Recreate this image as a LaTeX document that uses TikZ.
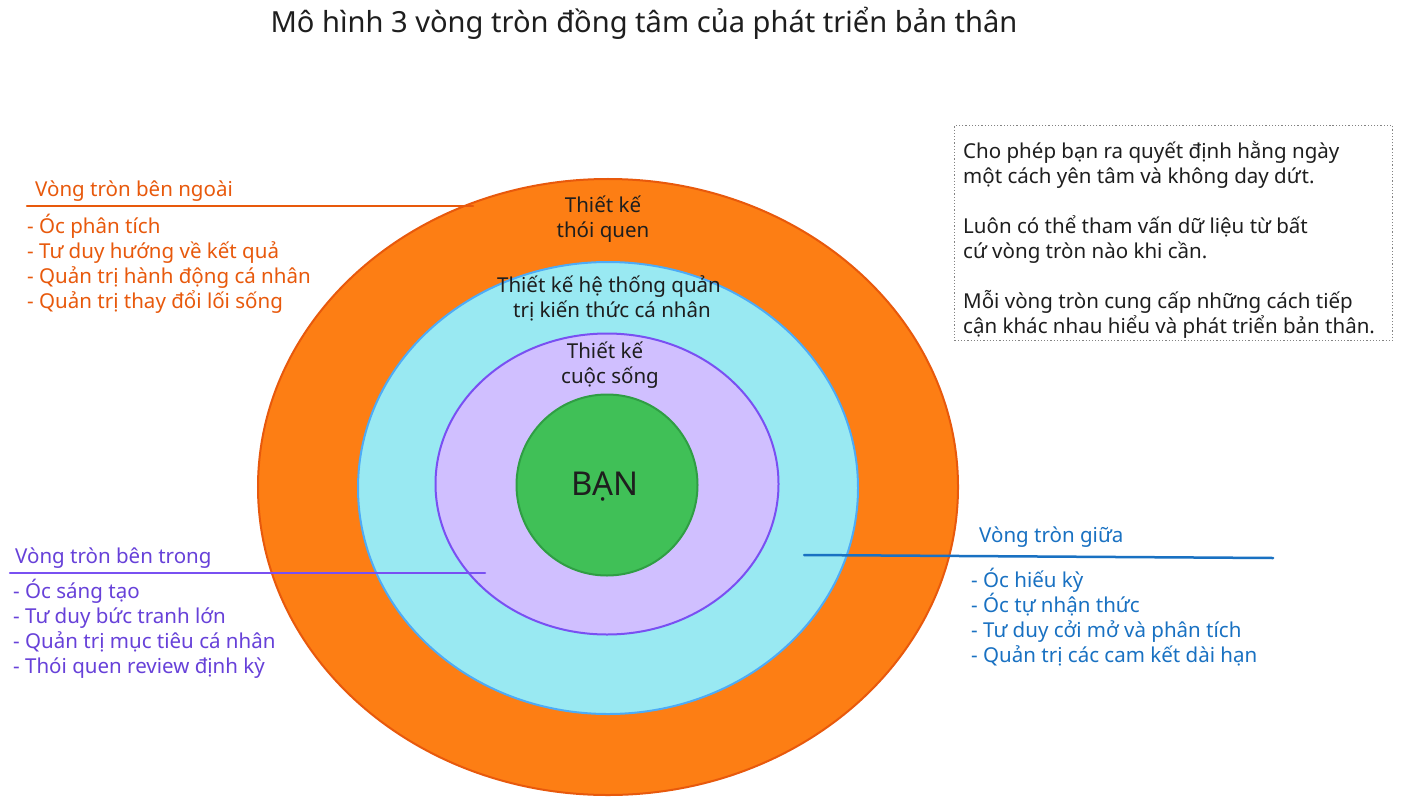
\documentclass[tikz,border=0pt]{standalone}
\usepackage{fontspec}
\setmainfont{Noto Sans}
\usetikzlibrary{shapes.geometric}
\definecolor{orfill}{HTML}{FD7E14}
\definecolor{orline}{HTML}{E8590C}
\definecolor{cyfill}{HTML}{99E9F2}
\definecolor{cyline}{HTML}{4DABF7}
\definecolor{vifill}{HTML}{D0BFFF}
\definecolor{viline}{HTML}{7950F2}
\definecolor{viink}{HTML}{6741D9}
\definecolor{grfill}{HTML}{40C057}
\definecolor{grline}{HTML}{2F9E44}
\definecolor{ink}{HTML}{1E1E1E}
\definecolor{blink}{HTML}{1971C2}
\begin{document}
\begin{tikzpicture}[x=1bp,y=-1bp,
  ring/.style={ellipse, line width=2bp, inner sep=0pt},
  body/.style={font=\fontsize{20.6}{25}\selectfont, inner sep=0pt, anchor=base west},
  lbl/.style={font=\fontsize{20.6}{25}\selectfont, inner sep=0pt, anchor=base, text=ink},
  rule/.style={line width=2.5bp, line cap=round}]
\useasboundingbox[fill=white] (0,0) rectangle (1425,804);

% title
\node[inner sep=0pt, anchor=base, text=ink, font=\fontsize{29.2}{34}\selectfont] (title) at (644,33) {Mô hình 3 vòng tròn đồng tâm của phát triển bản thân};

% rings
\node[ring, fill=orfill, draw=orline, minimum width=700bp, minimum height=616bp] (outer) at (608,487) {};
\node[ring, fill=cyfill, draw=cyline, minimum width=500bp, minimum height=452bp] (middle) at (608,488) {};
\node[ring, fill=vifill, draw=viline, minimum width=343bp, minimum height=301bp] (inner) at (607,484) {};
\node[circle, fill=grfill, draw=grline, line width=2bp, inner sep=0pt, minimum size=181bp] (core) at (607,485) {};
\node[inner sep=0pt, text=ink, font=\fontsize{33}{36}\selectfont] (you) at (605,487) {BẠN};

% ring labels
\node[lbl] (h1) at (603,212) {Thiết kế};
\node[lbl] (h2) at (603,237) {thói quen};
\node[lbl] (k1) at (609,292) {Thiết kế hệ thống quản};
\node[lbl] (k2) at (612,317) {trị kiến thức cá nhân};
\node[lbl] (l1) at (605,358) {Thiết kế};
\node[lbl] (l2) at (610,383) {cuộc sống};

% outer circle notes
\node[body, text=orline] (oh) at (35,196) {Vòng tròn bên ngoài};
\coordinate (oa) at (27,206);
\coordinate (ob) at (473,206);
\draw[rule, orline] (oa) -- (ob);
\foreach \t [count=\i] in {- Óc phân tích, - Tư duy hướng về kết quả, - Quản trị hành động cá nhân, - Quản trị thay đổi lối sống}
  \node[body, text=orline] (o\i) at (27,208+25*\i) {\t};

% inner circle notes
\node[body, text=viink] (ih) at (15,563) {Vòng tròn bên trong};
\coordinate (ia) at (10,573);
\coordinate (ib) at (485,573);
\draw[rule, viline] (ia) -- (ib);
\foreach \t [count=\i] in {- Óc sáng tạo, - Tư duy bức tranh lớn, - Quản trị mục tiêu cá nhân, - Thói quen review định kỳ}
  \node[body, text=viink] (i\i) at (13,573+25*\i) {\t};

% middle circle notes
\node[body, text=blink] (mh) at (979,542) {Vòng tròn giữa};
\coordinate (ma) at (804,555);
\coordinate (mb) at (1273,558);
\draw[rule, blink] (ma) -- (mb);
\foreach \t [count=\i] in {- Óc hiếu kỳ, - Óc tự nhận thức, - Tư duy cởi mở và phân tích, - Quản trị các cam kết dài hạn}
  \node[body, text=blink] (m\i) at (971,562+25*\i) {\t};

% note box
\node[draw=ink!55, dotted, line width=1.2bp, inner sep=0pt, minimum width=438bp, minimum height=215bp, anchor=north west] (box) at (954,125) {};
\node[body, text=ink] (b1) at (963,158) {Cho phép bạn ra quyết định hằng ngày};
\node[body, text=ink] (b2) at (963,183) {một cách yên tâm và không day dứt.};
\node[body, text=ink] (b3) at (963,233) {Luôn có thể tham vấn dữ liệu từ bất};
\node[body, text=ink] (b4) at (963,258) {cứ vòng tròn nào khi cần.};
\node[body, text=ink] (b5) at (963,308) {Mỗi vòng tròn cung cấp những cách tiếp};
\node[body, text=ink] (b6) at (963,333) {cận khác nhau hiểu và phát triển bản thân.};
\end{tikzpicture}
\end{document}
